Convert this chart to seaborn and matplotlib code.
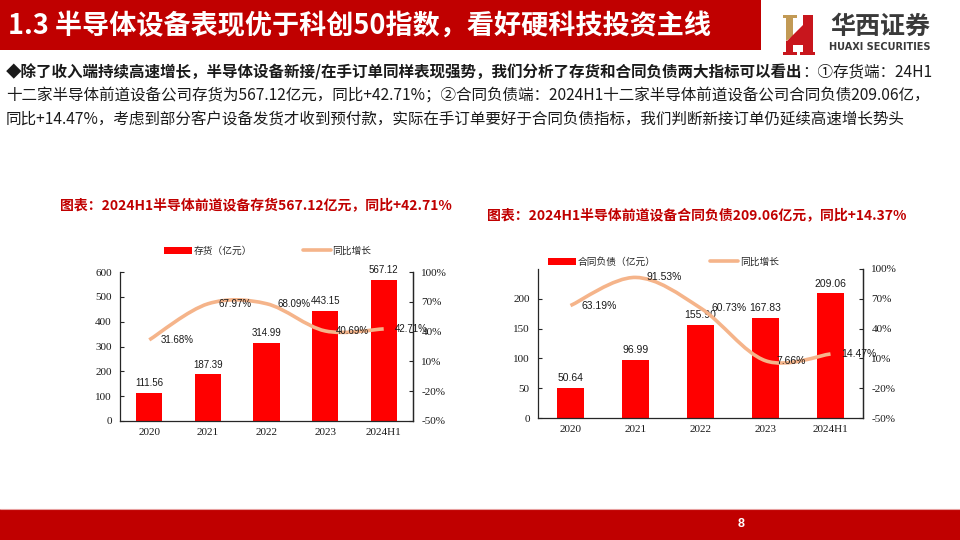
import matplotlib
matplotlib.use('Agg')
import matplotlib.pyplot as plt
import seaborn as sns
from matplotlib.patches import Rectangle, Polygon, PathPatch, Patch
from matplotlib.lines import Line2D
from matplotlib.path import Path

# ---------------- data ----------------
years = ['2020', '2021', '2022', '2023', '2024H1']
inventory = [111.56, 187.39, 314.99, 443.15, 567.12]
inventory_yoy = [31.68, 67.97, 68.09, 40.69, 42.71]
contract = [50.64, 96.99, 155.90, 167.83, 209.06]
contract_yoy = [63.19, 91.53, 60.73, 7.66, 14.47]

inv_left_ticks = [0, 100, 200, 300, 400, 500, 600]
con_left_ticks = [0, 50, 100, 150, 200]
right_ticks = [-50, -20, 10, 40, 70, 100]

header_title = '1.3 半导体设备表现优于科创50指数，看好硬科技投资主线'
body_line1_bold = '◆除了收入端持续高速增长，半导体设备新接/在手订单同样表现强势，我们分析了存货和合同负债两大指标可以看出'
body_line1_rest = '：①存货端：24H1'
body_line2 = '十二家半导体前道设备公司存货为567.12亿元，同比+42.71%；②合同负债端：2024H1十二家半导体前道设备公司合同负债209.06亿，'
body_line3 = '同比+14.47%，考虑到部分客户设备发货才收到预付款，实际在手订单要好于合同负债指标，我们判断新接订单仍延续高速增长势头'
chart1_title = '图表：2024H1半导体前道设备存货567.12亿元，同比+42.71%'
chart2_title = '图表：2024H1半导体前道设备合同负债209.06亿元，同比+14.37%'
chart1_bar_name = '存货（亿元）'
chart2_bar_name = '合同负债（亿元）'
line_name = '同比增长'

# ---------------- style ----------------
sns.set_theme(style='white')
plt.rcParams['font.family'] = ['Noto Sans CJK SC', 'DejaVu Sans']

RED_HDR = '#C00000'
BAR_RED = '#FF0000'
LINE_C = '#F5B48A'
SPINE_C = '#262626'
W, H = 960, 540

fig = plt.figure(figsize=(9.6, 5.4), dpi=100)
fig.patch.set_facecolor('white')


def fx(x):
    return x / W


def fy(y):
    return 1 - y / H


def smooth_path(xs, ys):
    pts = list(zip(xs, ys))
    n = len(pts)
    verts = [pts[0]]
    codes = [Path.MOVETO]
    for i in range(n - 1):
        p0 = pts[i - 1] if i > 0 else pts[i]
        p1 = pts[i]
        p2 = pts[i + 1]
        p3 = pts[i + 2] if i + 2 < n else pts[i + 1]
        c1 = (p1[0] + (p2[0] - p0[0]) / 6, p1[1] + (p2[1] - p0[1]) / 6)
        c2 = (p2[0] - (p3[0] - p1[0]) / 6, p2[1] - (p3[1] - p1[1]) / 6)
        verts += [c1, c2, p2]
        codes += [Path.CURVE4] * 3
    return Path(verts, codes)


def draw_chart(box, bars, yoy, left_ticks, left_max, bar_name, legend_xy, colsp, bar_width, label_fs):
    l, t, r, b = box
    ax = fig.add_axes([fx(l), fy(b), (r - l) / W, (b - t) / H])
    sns.barplot(x=years, y=bars, order=years, color=BAR_RED, saturation=1,
                width=bar_width, ax=ax, edgecolor='none')
    ax.set_xlim(-0.5, len(years) - 0.5)
    ax.set_ylim(0, left_max)
    ax.set_yticks(left_ticks)
    ax.set_yticklabels([str(v) for v in left_ticks])
    ax.set_xlabel('')
    ax.set_ylabel('')
    for s in ['left', 'bottom', 'right']:
        ax.spines[s].set_visible(True)
        ax.spines[s].set_color(SPINE_C)
        ax.spines[s].set_linewidth(0.9)
    ax.spines['top'].set_visible(False)
    ax.tick_params(axis='y', direction='in', length=3, width=0.8, pad=6,
                   colors=SPINE_C, left=True, labelsize=8)
    ax.tick_params(axis='x', length=0, pad=5, labelsize=8, colors=SPINE_C)
    for lab in ax.get_xticklabels() + ax.get_yticklabels():
        lab.set_family('Liberation Serif')
        lab.set_color('#1a1a1a')
    ax.bar_label(ax.containers[0], labels=[f'{v:.2f}' for v in bars], padding=3.5,
                 fontsize=label_fs, family='Liberation Sans', color='#1a1a1a')

    axr = ax.twinx()
    axr.set_ylim(-50, 100)
    axr.set_yticks(right_ticks)
    axr.set_yticklabels([f'{v}%' for v in right_ticks])
    for s in ['left', 'top', 'bottom']:
        axr.spines[s].set_visible(False)
    axr.spines['right'].set_color(SPINE_C)
    axr.spines['right'].set_linewidth(0.9)
    axr.tick_params(axis='y', direction='in', length=3, width=0.8, pad=6,
                    colors=SPINE_C, right=True, labelsize=8)
    for lab in axr.get_yticklabels():
        lab.set_family('Liberation Serif')
        lab.set_color('#1a1a1a')
    axr.grid(False)
    ax.grid(False)
    xs = list(range(len(years)))
    axr.add_patch(PathPatch(smooth_path(xs, yoy), facecolor='none', edgecolor=LINE_C,
                            lw=2.6, capstyle='butt'))
    for x, v in zip(xs, yoy):
        axr.annotate(f'{v:.2f}%', (x, v), xytext=(11, 0), textcoords='offset pixels',
                     ha='left', va='center', fontsize=label_fs,
                     family='Liberation Sans', color='#1a1a1a')

    handles = [Patch(facecolor=BAR_RED, edgecolor='none', label=bar_name),
               Line2D([], [], color=LINE_C, lw=2.6, label=line_name)]
    fig.legend(handles=handles, loc='center left', bbox_to_anchor=(fx(legend_xy[0]), fy(legend_xy[1])),
               bbox_transform=fig.transFigure, ncol=2, frameon=False, fontsize=7,
               handlelength=2.9, handleheight=0.8, handletextpad=0.15,
               columnspacing=colsp, borderpad=0, borderaxespad=0)
    return ax, axr


# ---------------- header / footer ----------------
fig.add_artist(Rectangle((0, fy(50)), 761 / W, 50 / H, transform=fig.transFigure,
                         facecolor=RED_HDR, edgecolor='none'))
fig.text(fx(8), fy(26), header_title, color='white', fontsize=19.5, weight='bold',
         ha='left', va='center')


# logo emblem
def px_poly(pts, color):
    fig.add_artist(Polygon([(fx(x), fy(y)) for x, y in pts], closed=True,
                           transform=fig.transFigure, facecolor=color, edgecolor='none'))


GOLD = '#C29A55'
LRED = '#C8161D'
px_poly([(783, 15), (797, 15), (797, 18), (793, 18), (793, 36), (786, 41), (786, 18), (783, 18)], GOLD)
px_poly([(786, 42), (812, 16), (812, 45), (786, 45)], LRED)
px_poly([(803, 15), (813, 15), (813, 55), (803, 55)], LRED)
px_poly([(786, 41), (793, 41), (793, 55), (786, 55)], LRED)
px_poly([(783, 52), (797, 52), (797, 55), (783, 55)], LRED)
px_poly([(800, 52), (815, 52), (815, 55), (800, 55)], LRED)
fig.text(fx(880), fy(27), '华西证券', fontsize=18, color='#3a3a3a', weight='bold',
         ha='center', va='center')
fig.text(fx(880), fy(47), 'HUAXI SECURITIES', fontsize=7, color='#3a3a3a', weight='bold',
         family='Liberation Sans Narrow', ha='center', va='center')

fig.add_artist(Rectangle((0, 0), 1, 31 / H, transform=fig.transFigure,
                         facecolor=RED_HDR, edgecolor='none'))
fig.add_artist(Line2D([0, 1], [fy(509), fy(509)], transform=fig.transFigure,
                      color='#E8A0A0', lw=0.8))
fig.text(fx(741), fy(524), '8', color='white', fontsize=9, weight='bold',
         ha='center', va='center', family='Liberation Sans')

# ---------------- body text ----------------
BODY_FS = 11.2
t1 = fig.text(fx(6), fy(72), body_line1_bold, fontsize=BODY_FS, weight='bold',
              ha='left', va='center', color='#1a1a1a')
fig.canvas.draw()
bb = t1.get_window_extent()
fig.text(bb.x1 / fig.bbox.width, fy(72), body_line1_rest, fontsize=BODY_FS,
         ha='left', va='center', color='#1a1a1a')
fig.text(fx(6), fy(96), body_line2, fontsize=BODY_FS, ha='left', va='center', color='#1a1a1a')
fig.text(fx(6), fy(120), body_line3, fontsize=BODY_FS, ha='left', va='center', color='#1a1a1a')

# ---------------- chart titles ----------------
fig.text(fx(60), fy(205), chart1_title, fontsize=10, weight='bold', color=RED_HDR,
         ha='left', va='center')
fig.text(fx(487), fy(215), chart2_title, fontsize=10, weight='bold', color=RED_HDR,
         ha='left', va='center')

# ---------------- charts ----------------
draw_chart((120, 272, 413, 421), inventory, inventory_yoy, inv_left_ticks, 600,
           chart1_bar_name, (164, 251), 5.2, 0.45, 7)
draw_chart((538, 269, 863, 418), contract, contract_yoy, con_left_ticks, 250,
           chart2_bar_name, (548, 262), 5.6, 0.43, 7.5)

fig.savefig('out.png', dpi=100, facecolor='white')
